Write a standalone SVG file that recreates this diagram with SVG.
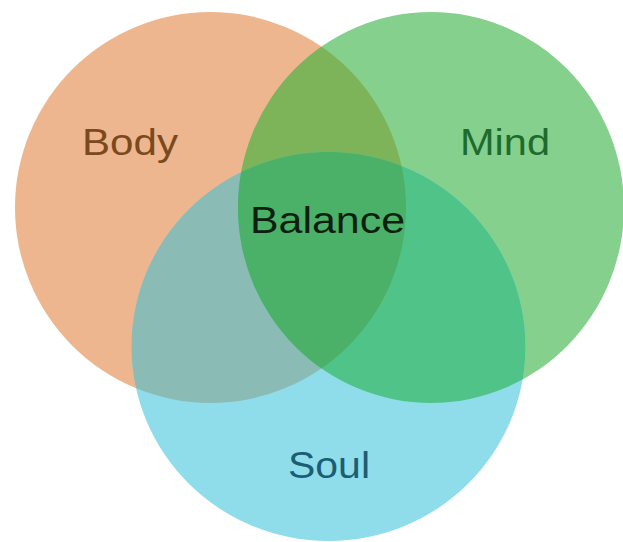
<svg xmlns="http://www.w3.org/2000/svg" width="623" height="542" viewBox="0 0 623 542">
  <style>
    text { font-family: "Liberation Sans", Arial, sans-serif; font-size: 36px; }
  </style>
  <defs>
    <clipPath id="cBody"><ellipse cx="210.5" cy="207.5" rx="195.5" ry="195.5"/></clipPath>
    <clipPath id="cMind"><ellipse cx="431" cy="207.5" rx="193" ry="195.5"/></clipPath>
  </defs>
  <rect width="623" height="542" fill="#ffffff"/>
  <g id="body"><ellipse cx="210.5" cy="207.5" rx="195.5" ry="195.5" fill="#EDB68E"/></g>
  <g id="mind"><ellipse cx="431" cy="207.5" rx="193" ry="195.5" fill="#86D08E"/></g>
  <g id="soul"><ellipse cx="328.5" cy="346.5" rx="197" ry="194.5" fill="#8FDCEA"/></g>
  <g id="overlaps">
    <ellipse cx="431" cy="207.5" rx="193" ry="195.5" fill="#7DB45A" clip-path="url(#cBody)"/>
    <ellipse cx="328.5" cy="346.5" rx="197" ry="194.5" fill="#8ABBB5" clip-path="url(#cBody)"/>
    <ellipse cx="328.5" cy="346.5" rx="197" ry="194.5" fill="#50C488" clip-path="url(#cMind)"/>
    <g clip-path="url(#cBody)">
      <ellipse cx="328.5" cy="346.5" rx="197" ry="194.5" fill="#4BB068" clip-path="url(#cMind)"/>
    </g>
  </g>
  <g id="labels">
    <text x="82" y="155" fill="#7A4A1E" textLength="96" lengthAdjust="spacingAndGlyphs">Body</text>
    <text x="460" y="155" fill="#1E6B2E" textLength="90" lengthAdjust="spacingAndGlyphs">Mind</text>
    <text x="250" y="233" fill="#0D1F10" textLength="155" lengthAdjust="spacingAndGlyphs">Balance</text>
    <text x="288" y="478" fill="#1B5E73" textLength="82" lengthAdjust="spacingAndGlyphs">Soul</text>
  </g>
</svg>
